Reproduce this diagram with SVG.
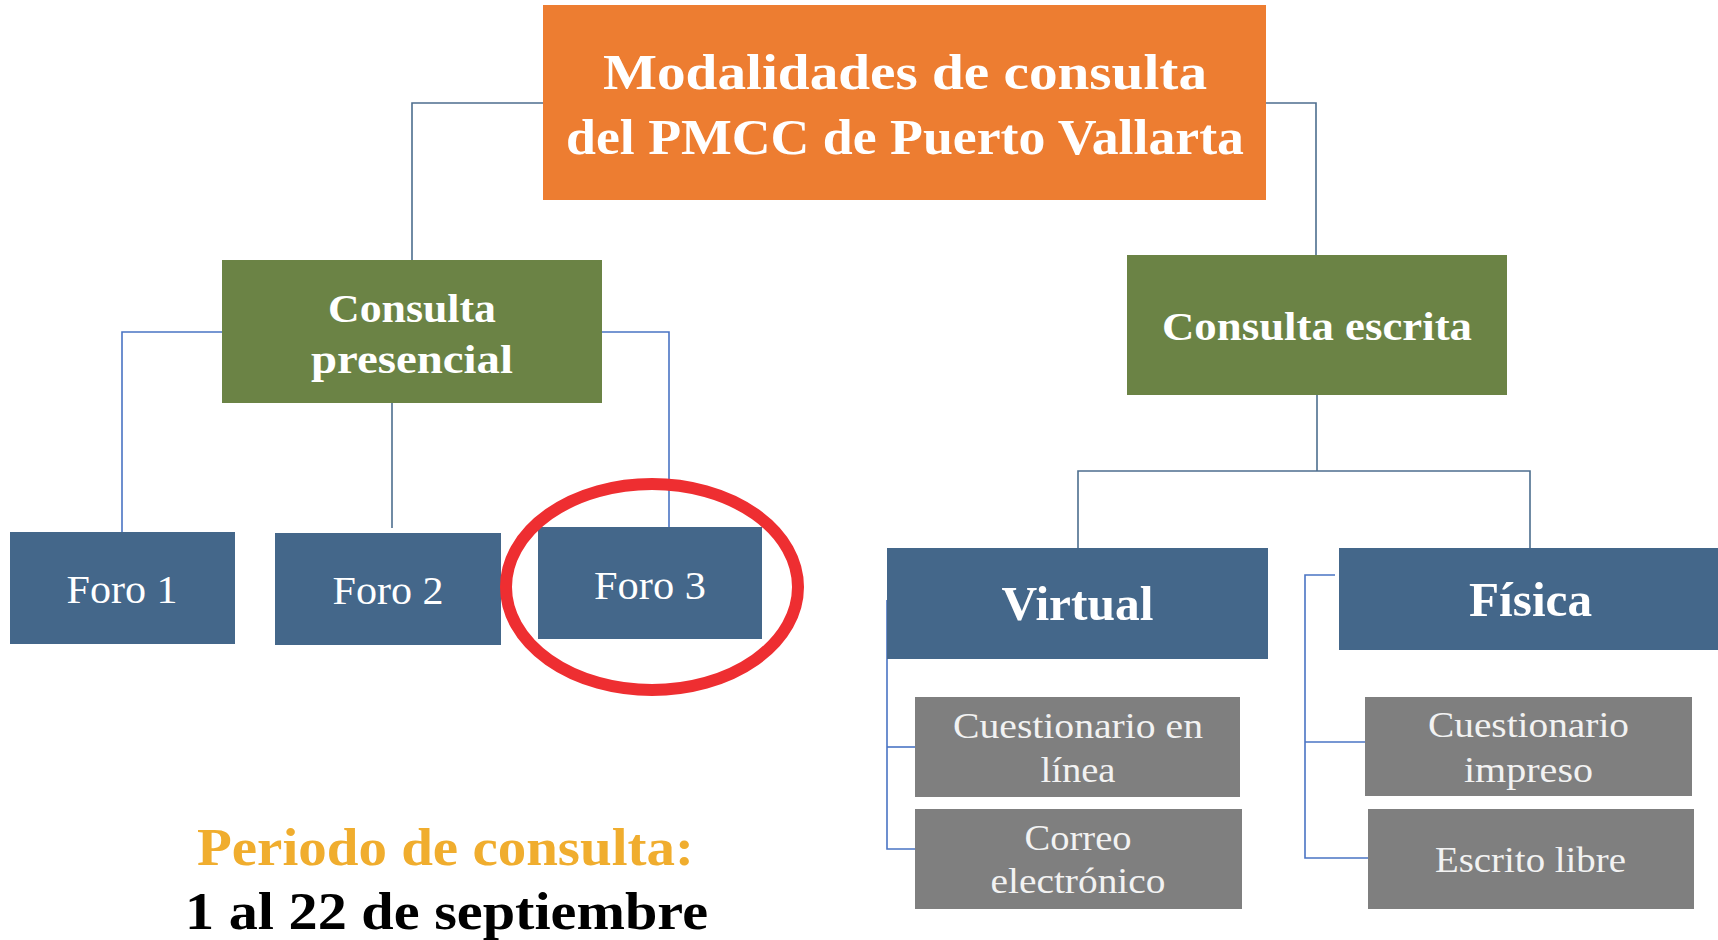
<svg xmlns="http://www.w3.org/2000/svg" width="1718" height="940" viewBox="0 0 1718 940">
<style>
.t{font-family:"Liberation Serif","Times New Roman",serif;text-anchor:middle;fill:#ffffff}
.b{font-weight:bold}
.g{fill:#f2f2f2}
.c1{fill:none;stroke:#4d6e8e;stroke-width:1.6}
.c2{fill:none;stroke:#4a74c4;stroke-width:1.6}
.orange{fill:#ed7d31}
.green{fill:#6b8345}
.blue{fill:#44678a}
.gray{fill:#7f7f7f}
</style>
<rect width="1718" height="940" fill="#ffffff"/>
<g id="connectors">
<path class="c1" d="M543,103 H412 V260"/>
<path class="c1" d="M1266,103 H1316 V255"/>
<path class="c2" d="M222,332 H122 V532"/>
<path class="c1" d="M392,403 V528"/>
<path class="c2" d="M602,332 H669 V527"/>
<path class="c1" d="M1317,395 V471"/>
<path class="c1" d="M1078,548 V471 H1530 V548"/>
<path class="c2" d="M887,600 V849 H915"/>
<path class="c2" d="M887,747 H915"/>
<path class="c2" d="M1335,575 H1305 V858 H1368"/>
<path class="c2" d="M1305,742 H1365"/>
</g>
<g id="root">
<rect class="orange" x="543" y="5" width="723" height="195"/>
<text class="t b" font-size="51" x="905" y="89" textLength="604" lengthAdjust="spacingAndGlyphs">Modalidades de consulta</text>
<text class="t b" font-size="51" x="905" y="154" textLength="678" lengthAdjust="spacingAndGlyphs">del PMCC de Puerto Vallarta</text>
</g>
<g id="presencial">
<rect class="green" x="222" y="260" width="380" height="143"/>
<text class="t b" font-size="41" x="412" y="322" textLength="168" lengthAdjust="spacingAndGlyphs">Consulta</text>
<text class="t b" font-size="41" x="412" y="373" textLength="202" lengthAdjust="spacingAndGlyphs">presencial</text>
</g>
<g id="escrita">
<rect class="green" x="1127" y="255" width="380" height="140"/>
<text class="t b" font-size="41" x="1317" y="340" textLength="310" lengthAdjust="spacingAndGlyphs">Consulta escrita</text>
</g>
<g id="foro1">
<rect class="blue" x="10" y="532" width="225" height="112"/>
<text class="t" font-size="40" x="122" y="603" textLength="111" lengthAdjust="spacingAndGlyphs">Foro 1</text>
</g>
<g id="foro2">
<rect class="blue" x="275" y="533" width="226" height="112"/>
<text class="t" font-size="40" x="388" y="604" textLength="111" lengthAdjust="spacingAndGlyphs">Foro 2</text>
</g>
<g id="foro3">
<rect class="blue" x="538" y="527" width="224" height="112"/>
<text class="t" font-size="40" x="650" y="599" textLength="112" lengthAdjust="spacingAndGlyphs">Foro 3</text>
</g>
<g id="highlight">
<ellipse cx="652" cy="587" rx="146" ry="103" fill="none" stroke="#ee2e31" stroke-width="12"/>
</g>
<g id="virtual">
<rect class="blue" x="887" y="548" width="381" height="111"/>
<text class="t b" font-size="48" x="1077.5" y="620" textLength="152" lengthAdjust="spacingAndGlyphs">Virtual</text>
</g>
<g id="fisica">
<rect class="blue" x="1339" y="548" width="379" height="102"/>
<text class="t b" font-size="48" x="1530.5" y="616" textLength="123" lengthAdjust="spacingAndGlyphs">Física</text>
</g>
<g id="cuestionario-linea">
<rect class="gray" x="915" y="697" width="325" height="100"/>
<text class="t g" font-size="36" x="1078" y="738" textLength="250" lengthAdjust="spacingAndGlyphs">Cuestionario en</text>
<text class="t g" font-size="36" x="1078" y="782" textLength="75" lengthAdjust="spacingAndGlyphs">línea</text>
</g>
<g id="correo">
<rect class="gray" x="915" y="809" width="327" height="100"/>
<text class="t g" font-size="36" x="1078" y="850" textLength="107" lengthAdjust="spacingAndGlyphs">Correo</text>
<text class="t g" font-size="36" x="1078" y="893" textLength="175" lengthAdjust="spacingAndGlyphs">electrónico</text>
</g>
<g id="cuestionario-impreso">
<rect class="gray" x="1365" y="697" width="327" height="99"/>
<text class="t g" font-size="36" x="1528.5" y="737" textLength="201" lengthAdjust="spacingAndGlyphs">Cuestionario</text>
<text class="t g" font-size="36" x="1528.5" y="782" textLength="129" lengthAdjust="spacingAndGlyphs">impreso</text>
</g>
<g id="escrito-libre">
<rect class="gray" x="1368" y="809" width="326" height="100"/>
<text class="t g" font-size="36" x="1530.5" y="872" textLength="191" lengthAdjust="spacingAndGlyphs">Escrito libre</text>
</g>
<g id="periodo">
<text class="t b" font-size="52" x="445.5" y="865" fill="#f0ad2e" style="fill:#f0ad2e" textLength="497" lengthAdjust="spacingAndGlyphs">Periodo de consulta:</text>
<text class="t b" font-size="52" x="446.5" y="929" style="fill:#000000" textLength="523" lengthAdjust="spacingAndGlyphs">1 al 22 de septiembre</text>
</g>
</svg>
